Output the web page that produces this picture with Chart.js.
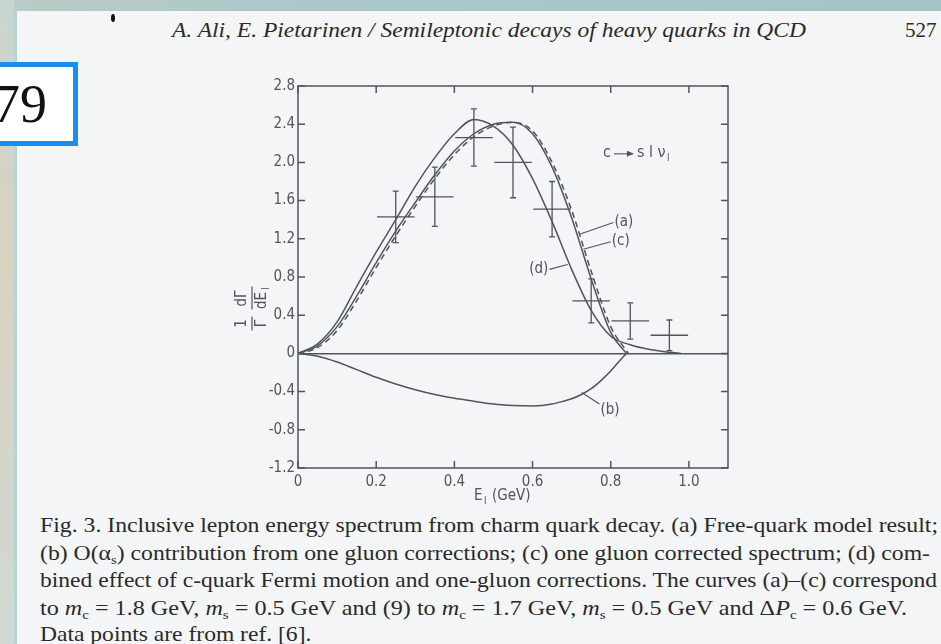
<!DOCTYPE html>
<html>
<head>
<meta charset="utf-8">
<script src="https://cdn.jsdelivr.net/npm/chart.js@4.4.1/dist/chart.umd.min.js"></script>
<style>
  html, body { margin: 0; padding: 0; }
  body { width: 941px; height: 644px; background: #f4f5f7; position: relative; overflow: hidden;
         font-family: "Liberation Serif", "DejaVu Serif", serif; color: #2a2a2a; }
  #topstrip { position: absolute; left: 0; top: 0; width: 941px; height: 11px;
              background: linear-gradient(90deg, #b9ccc6 0%, #a9c6ca 40%, #a6c3c8 100%); }
  #leftstrip { position: absolute; left: 0; top: 0; width: 14px; height: 644px;
               background: linear-gradient(180deg, #c8d6cf 0%, #d8d2c0 40%, #cfd9d3 100%); }
  #edge { position: absolute; left: 14px; top: 11px; width: 3px; height: 633px; background: #b8d3d6; }
  #box79 { position: absolute; left: -6px; top: 62px; width: 74px; height: 74px;
           border: 5px solid #1b8ff0; background: #fff; font-size: 54px; line-height: 74px;
           font-family: "Liberation Serif", serif; color: #111; text-indent: -6px; }
  #dot { position: absolute; left: 111px; top: 14px; width: 4px; height: 8px; border-radius: 50%; background: #111; }
  .hdr { position: absolute; top: 18px; font-style: italic; font-size: 21px; white-space: nowrap; }
  .cap { position: absolute; left: 40px; font-size: 21px; white-space: nowrap; line-height: 24px;
         transform-origin: 0 0; }
  .cap i { font-style: italic; }
  .cap sub { font-size: 13px; vertical-align: -4px; line-height: 0; }
  #plot { position: absolute; left: 201px; top: 70px; }
</style>
</head>
<body>
<div id="topstrip"></div>
<div id="leftstrip"></div>
<div id="edge"></div>
<div id="box79">79</div>
<div id="dot"></div>
<div class="hdr" id="hdr1" style="left:172px">A. Ali, E. Pietarinen / Semileptonic decays of heavy quarks in QCD</div>
<div class="hdr" style="left:905px; font-style:normal">527</div>

<canvas id="plot" width="560" height="440"></canvas>

<div class="cap" id="c1" style="top:513px">Fig. 3. Inclusive lepton energy spectrum from charm quark decay. (a) Free-quark model result;</div>
<div class="cap" id="c2" style="top:541px">(b) O(α<sub>s</sub>) contribution from one gluon corrections; (c) one gluon corrected spectrum; (d) com-</div>
<div class="cap" id="c3" style="top:568px">bined effect of c-quark Fermi motion and one-gluon corrections. The curves (a)–(c) correspond</div>
<div class="cap" id="c4" style="top:596px">to <i>m</i><sub>c</sub> = 1.8 GeV, <i>m</i><sub>s</sub> = 0.5 GeV and (9) to <i>m</i><sub>c</sub> = 1.7 GeV, <i>m</i><sub>s</sub> = 0.5 GeV and Δ<i>P</i><sub>c</sub> = 0.6 GeV.</div>
<div class="cap" id="c5" style="top:622px">Data points are from ref. [6].</div>

<script>
// lepton energy (GeV) grids and curve values
const xA = [0, 0.05, 0.1, 0.15, 0.2, 0.25, 0.3, 0.35, 0.4, 0.45, 0.5, 0.55, 0.6, 0.65, 0.7, 0.75, 0.8, 0.84];
const curveA = [0, 0.08, 0.28, 0.6, 0.95, 1.28, 1.58, 1.87, 2.12, 2.3, 2.4, 2.42, 2.3, 1.95, 1.42, 0.78, 0.22, 0];

const xC = [0, 0.05, 0.1, 0.15, 0.2, 0.25, 0.3, 0.35, 0.4, 0.45, 0.5, 0.55, 0.6, 0.65, 0.7, 0.75, 0.8, 0.845];
const curveC = [0, 0.06, 0.24, 0.55, 0.9, 1.23, 1.54, 1.83, 2.08, 2.27, 2.38, 2.42, 2.33, 2.0, 1.5, 0.86, 0.28, 0];

const xD = [0, 0.05, 0.1, 0.15, 0.2, 0.25, 0.3, 0.35, 0.4, 0.45, 0.5, 0.55, 0.6, 0.65, 0.7, 0.75, 0.8, 0.85, 0.9, 0.95, 0.98];
const curveD = [0, 0.1, 0.33, 0.7, 1.06, 1.4, 1.75, 2.05, 2.3, 2.45, 2.38, 2.18, 1.83, 1.38, 0.88, 0.45, 0.18, 0.09, 0.04, 0.012, 0];

const xB = [0, 0.05, 0.1, 0.15, 0.2, 0.25, 0.3, 0.35, 0.4, 0.45, 0.5, 0.55, 0.6, 0.625, 0.65, 0.675, 0.7, 0.725, 0.75, 0.775, 0.8, 0.82, 0.84];
const curveB = [0, -0.03, -0.09, -0.17, -0.25, -0.32, -0.38, -0.43, -0.47, -0.5, -0.53, -0.545, -0.55, -0.545, -0.53, -0.505, -0.475, -0.43, -0.37, -0.285, -0.185, -0.09, 0];

// data points with error bars
const ptX = [0.25, 0.35, 0.45, 0.55, 0.65, 0.75, 0.85, 0.95];
const ptY = [1.43, 1.64, 2.26, 2.0, 1.51, 0.55, 0.34, 0.19];
const ptErrX = [0.048, 0.048, 0.048, 0.048, 0.048, 0.048, 0.048, 0.048];
const ptErrY = [0.27, 0.31, 0.3, 0.37, 0.29, 0.23, 0.19, 0.16];

const xTicks = [0, 0.2, 0.4, 0.6, 0.8, 1.0];
const yTicks = [-1.2, -0.8, -0.4, 0, 0.4, 0.8, 1.2, 1.6, 2.0, 2.4, 2.8];

const INK = '#50555c';
const TICKFONT = '"DejaVu Sans Condensed", "Liberation Sans Narrow", "Liberation Sans", sans-serif';

function pts(xs, ys) { return xs.map((x, i) => ({ x: x, y: ys[i] })); }

function curve(label, xs, ys, dash) {
    return {
        label: label,
        data: pts(xs, ys),
        showLine: true,
        borderColor: INK,
        borderWidth: 1.5,
        borderDash: dash || [],
        pointRadius: 0,
        cubicInterpolationMode: 'monotone',
        fill: false
    };
}

const decor = {
    id: 'decor',
    afterDraw(chart) {
        const ctx = chart.ctx;
        const a = chart.chartArea;
        const xs = chart.scales.x, ys = chart.scales.y;
        ctx.save();
        ctx.strokeStyle = INK;
        ctx.lineWidth = 1.5;
        ctx.strokeRect(a.left, a.top, a.right - a.left, a.bottom - a.top);

        // inward ticks on all four sides
        const tl = 7;
        ctx.beginPath();
        xTicks.forEach(v => {
            const p = xs.getPixelForValue(v);
            ctx.moveTo(p, a.bottom); ctx.lineTo(p, a.bottom - tl);
            ctx.moveTo(p, a.top); ctx.lineTo(p, a.top + tl);
        });
        yTicks.forEach(v => {
            const p = ys.getPixelForValue(v);
            ctx.moveTo(a.left, p); ctx.lineTo(a.left + tl, p);
            ctx.moveTo(a.right, p); ctx.lineTo(a.right - tl, p);
        });
        ctx.stroke();

        // error-bar crosses
        ctx.lineWidth = 1.3;
        ctx.beginPath();
        ptX.forEach((x, i) => {
            const cx = xs.getPixelForValue(x), cy = ys.getPixelForValue(ptY[i]);
            const x0 = xs.getPixelForValue(x - ptErrX[i]), x1 = xs.getPixelForValue(x + ptErrX[i]);
            const y0 = ys.getPixelForValue(ptY[i] + ptErrY[i]), y1 = ys.getPixelForValue(ptY[i] - ptErrY[i]);
            ctx.moveTo(x0, cy); ctx.lineTo(x1, cy);
            ctx.moveTo(cx, y0); ctx.lineTo(cx, y1);
            ctx.moveTo(cx - 3, y0); ctx.lineTo(cx + 3, y0);
            ctx.moveTo(cx - 3, y1); ctx.lineTo(cx + 3, y1);
        });
        ctx.stroke();

        // curve labels with leader lines
        const P = (x, y) => [xs.getPixelForValue(x), ys.getPixelForValue(y)];
        ctx.lineWidth = 1.1;
        ctx.fillStyle = INK;
        ctx.font = '15px ' + TICKFONT;
        ctx.textBaseline = 'middle';
        const lead = (x0, y0, x1, y1) => {
            const p0 = P(x0, y0), p1 = P(x1, y1);
            ctx.beginPath(); ctx.moveTo(p0[0], p0[1]); ctx.lineTo(p1[0], p1[1]); ctx.stroke();
            return p1;
        };
        let q = lead(0.722, 1.25, 0.807, 1.37);
        ctx.textAlign = 'left'; ctx.fillText('(a)', q[0] + 1, q[1]);
        q = lead(0.73, 1.09, 0.80, 1.17);
        ctx.fillText('(c)', q[0] + 1, q[1] - 1);
        q = lead(0.69, 0.93, 0.643, 0.88);
        ctx.textAlign = 'right'; ctx.fillText('(d)', q[0] - 1, q[1]);
        q = lead(0.726, -0.41, 0.771, -0.53);
        ctx.textAlign = 'left'; ctx.fillText('(b)', q[0] + 1, q[1] + 6);

        // process label c -> s l nu_l
        q = P(0.78, 2.1);
        ctx.textAlign = 'left';
        ctx.font = '16px ' + TICKFONT;
        ctx.fillText('c', q[0], q[1]);
        ctx.beginPath();
        ctx.moveTo(q[0] + 11, q[1] + 1); ctx.lineTo(q[0] + 30, q[1] + 1); ctx.stroke();
        ctx.beginPath();
        ctx.moveTo(q[0] + 31, q[1] + 1); ctx.lineTo(q[0] + 24, q[1] - 2); ctx.lineTo(q[0] + 24, q[1] + 4);
        ctx.closePath(); ctx.fill();
        ctx.fillText('s l ν', q[0] + 34, q[1]);
        ctx.font = '10px ' + TICKFONT;
        ctx.fillText('l', q[0] + 64, q[1] + 6);

        // x-axis title E_l (GeV)
        ctx.font = '15px ' + TICKFONT;
        ctx.textAlign = 'left';
        const tx = xs.getPixelForValue(0.45), ty = a.bottom + 28;
        ctx.fillText('E', tx, ty);
        ctx.font = '10px ' + TICKFONT;
        ctx.fillText('l', tx + 10, ty + 5);
        ctx.font = '15px ' + TICKFONT;
        ctx.fillText('(GeV)', tx + 18, ty);

        // y-axis title 1/Γ dΓ/dE_l, rotated
        ctx.translate(a.left - 47, ys.getPixelForValue(0.45));
        ctx.rotate(-Math.PI / 2);
        ctx.font = '15px ' + TICKFONT;
        ctx.textAlign = 'center';
        ctx.fillText('1', -13, -9);
        ctx.fillText('Γ', -13, 11);
        ctx.fillText('dΓ', 12, -9);
        ctx.fillText('dE', 10, 11);
        ctx.font = '10px ' + TICKFONT;
        ctx.fillText('l', 22, 15);
        ctx.lineWidth = 1.2;
        ctx.beginPath();
        ctx.moveTo(-20, 1); ctx.lineTo(-6, 1);
        ctx.moveTo(1, 1); ctx.lineTo(24, 1);
        ctx.stroke();
        ctx.restore();
    }
};

new Chart(document.getElementById('plot'), {
    type: 'scatter',
    data: {
        datasets: [
            curve('(a)', xA, curveA),
            curve('(c)', xC, curveC, [6, 4]),
            curve('(d)', xD, curveD),
            curve('(b)', xB, curveB)
        ]
    },
    options: {
        responsive: false,
        animation: false,
        layout: { padding: { top: 16, right: 33, left: 0, bottom: 0 } },
        plugins: { legend: { display: false }, tooltip: { enabled: false } },
        scales: {
            x: {
                type: 'linear',
                min: 0, max: 1.1,
                afterFit: s => { s.height = 42; },
                border: { display: false },
                grid: { display: false, drawTicks: false },
                ticks: {
                    stepSize: 0.2, includeBounds: false, padding: 5,
                    color: '#555', font: { family: TICKFONT, size: 15 },
                    callback: v => v === 0 ? '0' : v.toFixed(1)
                }
            },
            y: {
                type: 'linear',
                min: -1.2, max: 2.8,
                afterFit: s => { s.width = 97; },
                border: { display: false },
                grid: {
                    drawTicks: false,
                    lineWidth: 1.5,
                    color: c => (c.tick && Math.abs(c.tick.value) < 1e-9) ? INK : 'rgba(0,0,0,0)'
                },
                ticks: {
                    stepSize: 0.4, padding: 3,
                    color: '#555', font: { family: TICKFONT, size: 15 },
                    callback: v => Math.abs(v) < 1e-9 ? '0' : v.toFixed(1)
                }
            }
        }
    },
    plugins: [decor]
});

// stretch the typeset lines to the widths they have on the page
function fit(id, w) {
    const el = document.getElementById(id);
    const cur = el.getBoundingClientRect().width;
    const s = w / cur;
    el.style.transformOrigin = '0 0';
    el.style.transform = 'scaleX(' + s + ')';
    return s;
}
fit('hdr1', 634);
fit('c1', 898);
fit('c2', 890);
const s3 = fit('c3', 897);
fit('c4', 867);
document.getElementById('c5').style.transform = 'scaleX(' + s3 + ')';
</script>
</body>
</html>
